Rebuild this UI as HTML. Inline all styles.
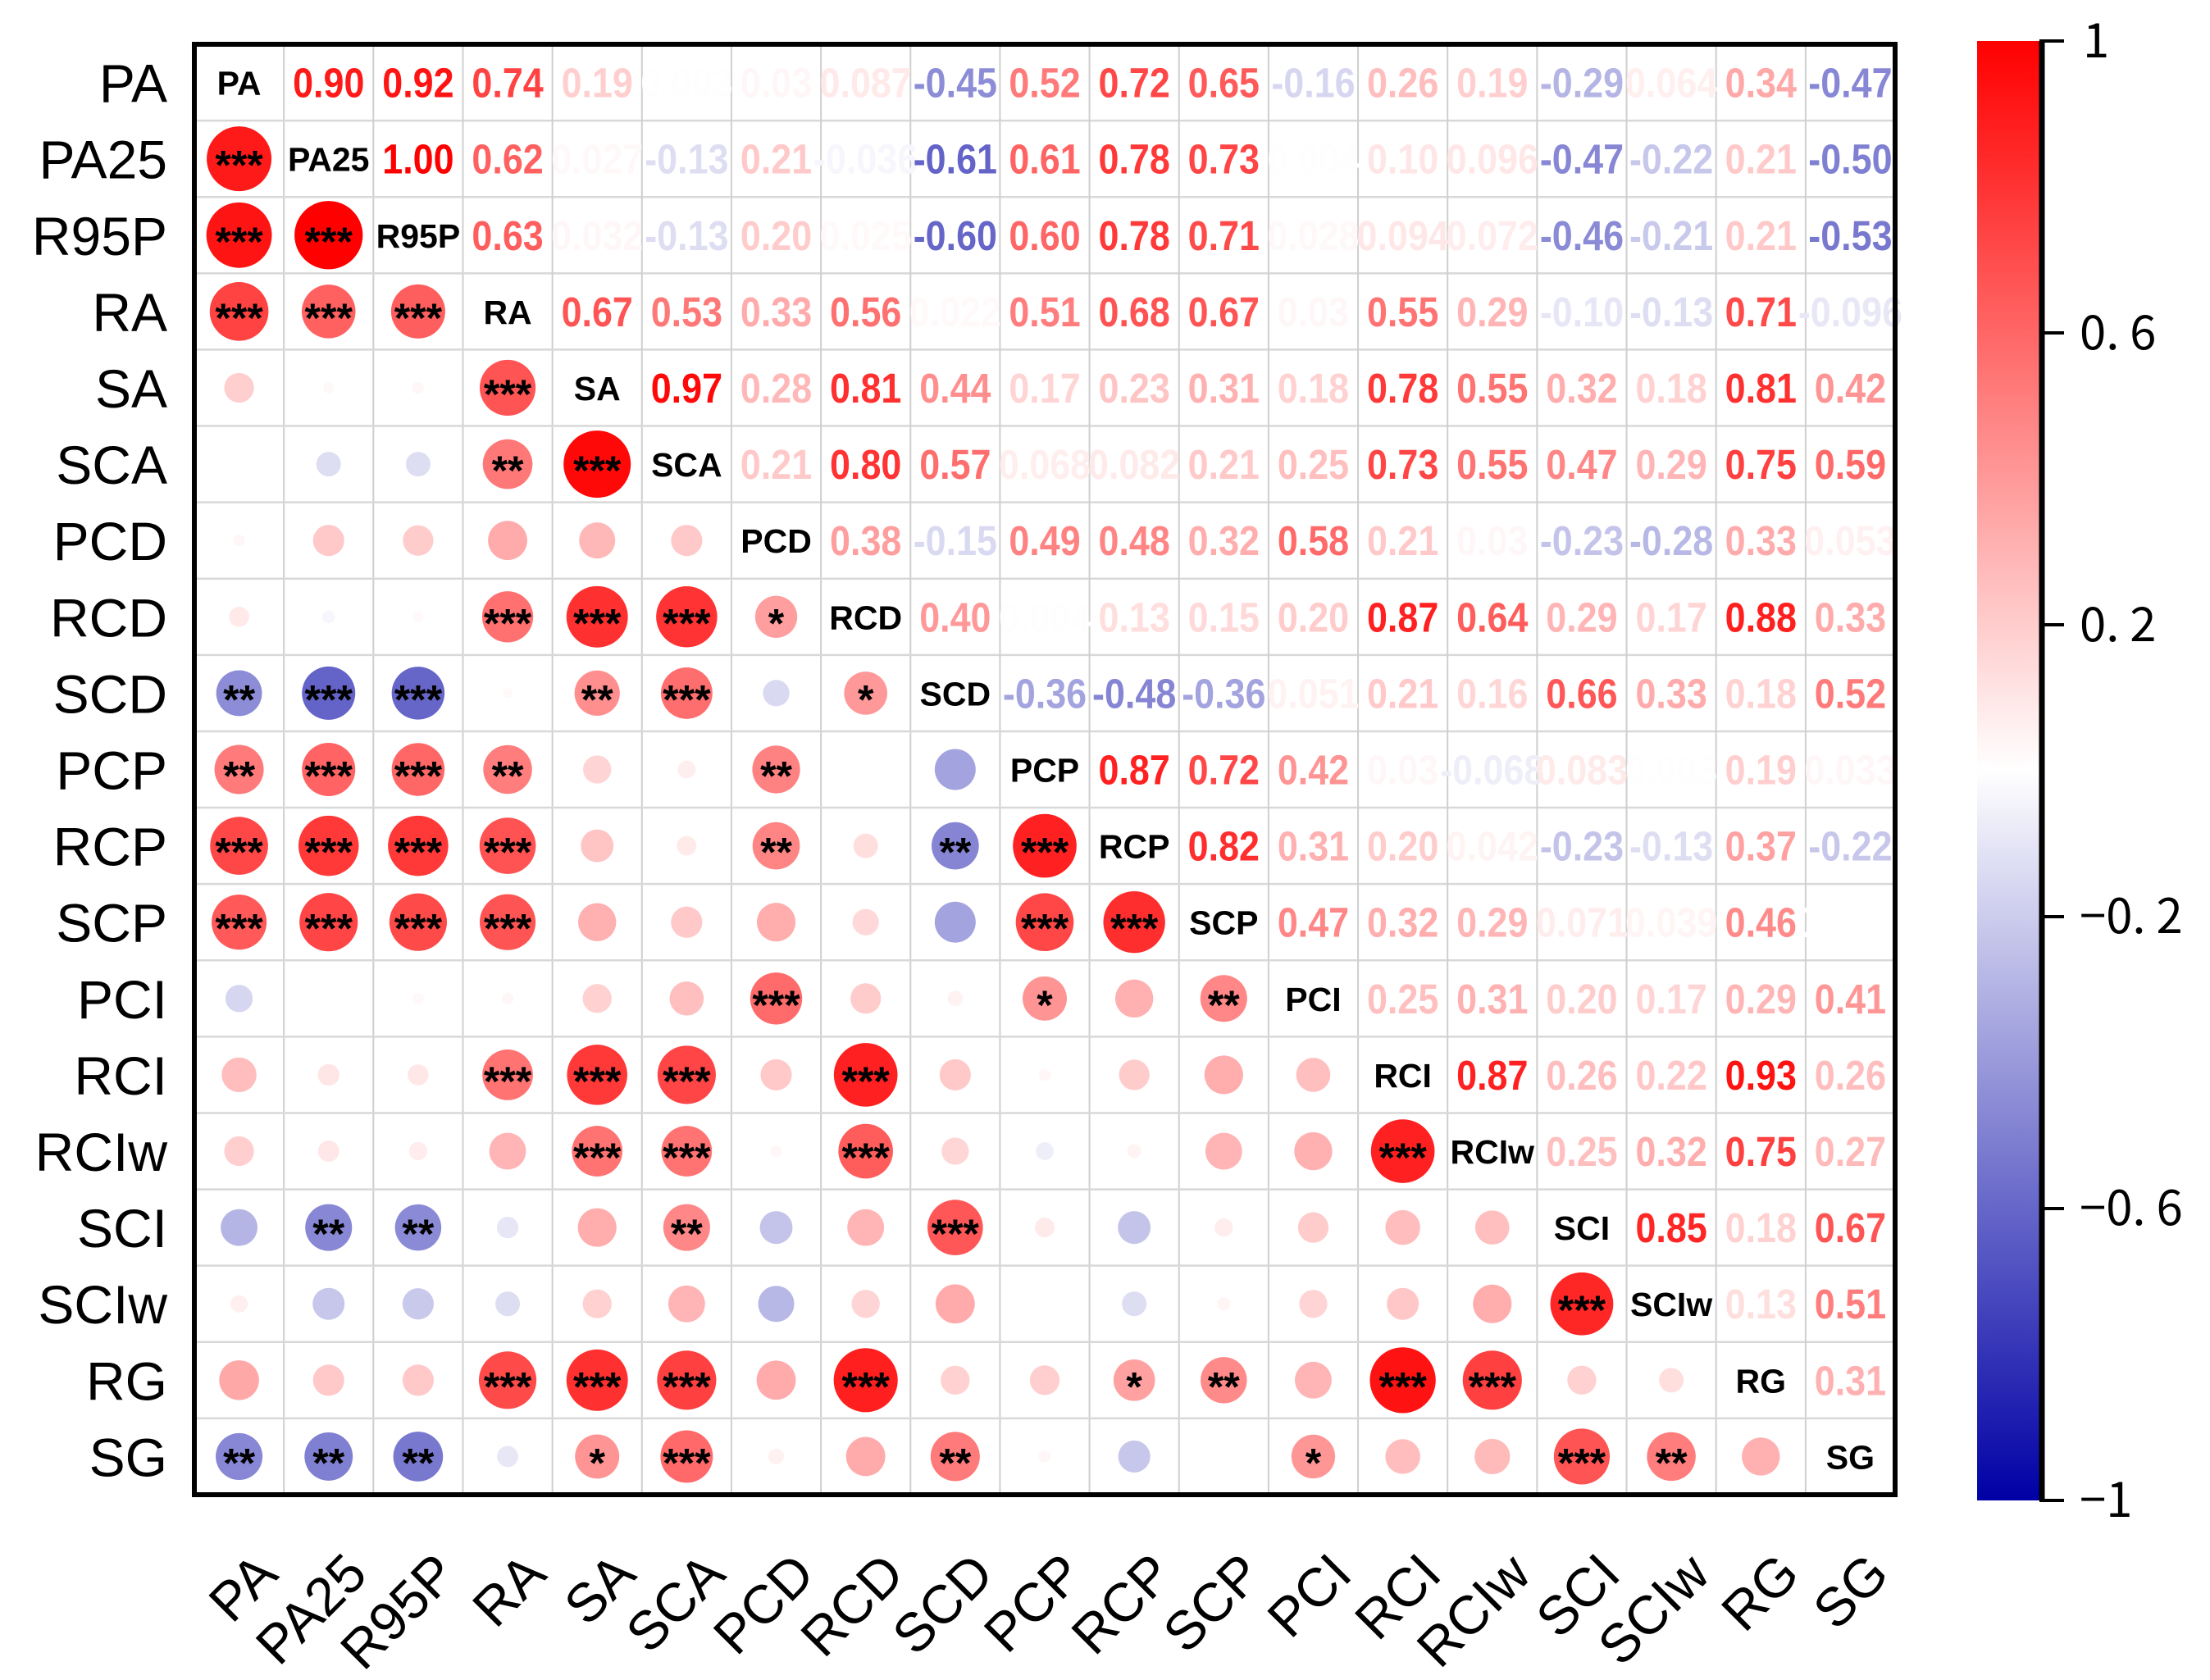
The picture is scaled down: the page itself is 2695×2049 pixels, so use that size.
<!DOCTYPE html>
<html><head><meta charset="utf-8"><style>
html,body{margin:0;padding:0;background:#fff;}
svg{display:block;}
</style></head><body>
<svg id="chart" width="2695" height="2049" viewBox="0 0 2695 2049" xmlns="http://www.w3.org/2000/svg" font-family="Liberation Sans, Arial, sans-serif"></svg>
<script>
const variables = ["PA","PA25","R95P","RA","SA","SCA","PCD","RCD","SCD","PCP","RCP","SCP","PCI","RCI","RCIw","SCI","SCIw","RG","SG"];
// upper-triangle correlations, row i lists values for columns i+1..18
const upperValues = [
 [0.90,0.92,0.74,0.19,0.003,0.03,0.087,-0.45,0.52,0.72,0.65,-0.16,0.26,0.19,-0.29,0.064,0.34,-0.47],
 [1.00,0.62,0.027,-0.13,0.21,-0.036,-0.61,0.61,0.78,0.73,0.004,0.100,0.096,-0.47,-0.22,0.21,-0.50],
 [0.63,0.032,-0.13,0.20,0.025,-0.60,0.60,0.78,0.71,0.028,0.094,0.072,-0.46,-0.21,0.21,-0.53],
 [0.67,0.53,0.33,0.56,0.022,0.51,0.68,0.67,0.030,0.55,0.29,-0.10,-0.13,0.71,-0.096],
 [0.97,0.28,0.81,0.44,0.17,0.23,0.31,0.18,0.78,0.55,0.32,0.18,0.81,0.42],
 [0.21,0.80,0.57,0.068,0.082,0.21,0.25,0.73,0.55,0.47,0.29,0.75,0.59],
 [0.38,-0.15,0.49,0.48,0.32,0.58,0.21,0.03,-0.23,-0.28,0.33,0.053],
 [0.40,0.004,0.13,0.15,0.20,0.87,0.64,0.29,0.17,0.88,0.33],
 [-0.36,-0.48,-0.36,0.051,0.21,0.16,0.66,0.33,0.18,0.52],
 [0.87,0.72,0.42,0.03,-0.068,0.083,0.003,0.19,0.033],
 [0.82,0.31,0.20,0.042,-0.23,-0.13,0.37,-0.22],
 [0.47,0.32,0.29,0.071,0.039,0.46,0.0019],
 [0.25,0.31,0.20,0.17,0.29,0.41],
 [0.87,0.26,0.22,0.93,0.26],
 [0.25,0.32,0.75,0.27],
 [0.85,0.18,0.67],
 [0.13,0.51],
 [0.31],
 []
];
// significance stars in lower triangle, row i lists columns 0..i-1
const lowerStars = [
 [],
 ["***"],
 ["***","***"],
 ["***","***","***"],
 ["","","","***"],
 ["","","","**","***"],
 ["","","","","",""],
 ["","","","***","***","***","*"],
 ["**","***","***","","**","***","","*"],
 ["**","***","***","**","","","**","",""],
 ["***","***","***","***","","","**","","**","***"],
 ["***","***","***","***","","","","","","***","***"],
 ["","","","","","","***","","","*","","**"],
 ["","","","***","***","***","","***","","","","",""],
 ["","","","","***","***","","***","","","","","","***"],
 ["","**","**","","","**","","","***","","","","","",""],
 ["","","","","","","","","","","","","","","","***"],
 ["","","","***","***","***","","***","","","*","**","","***","***","",""],
 ["**","**","**","","*","***","","","**","","","","*","","","***","**",""]
];
const cbTicks = [1,0.6,0.2,-0.2,-0.6,-1];
const cbTickLabels = ["1","0. 6","0. 2","\u22120. 2","\u22120. 6","\u22121"];

const NS="http://www.w3.org/2000/svg";
const svg=document.getElementById('chart');
function mk(tag,attrs,parent){const e=document.createElementNS(NS,tag);for(const k in attrs)e.setAttribute(k,attrs[k]);(parent||svg).appendChild(e);return e;}
const L=237,T=54,R=2311,B=1823,n=variables.length;
const cw=(R-L)/n, ch=(B-T)/n;
const xc=j=>L+cw*(j+0.5), yc=i=>T+ch*(i+0.5);
function corr(i,j){if(i===j)return 1;if(i<j)return upperValues[i][j-i-1];return upperValues[j][i-j-1];}
function color(r){const t=Math.min(1,Math.abs(r));let e=r>=0?[255,0,0]:[0,0,165];
 const c=e.map(v=>Math.round(255+(v-255)*t));return `rgb(${c[0]},${c[1]},${c[2]})`;}
const dmax=82;
const rad=r=>dmax/2*Math.sqrt(Math.abs(r)/0.97);

mk('rect',{x:L,y:T,width:R-L,height:B-T,fill:'#fff'});
const grid=mk('g',{});


for(let k=1;k<n;k++){
 mk('line',{x1:L+cw*k,y1:T,x2:L+cw*k,y2:B,stroke:'#cfcfcf','stroke-width':2},grid);
 mk('line',{x1:L,y1:T+ch*k,x2:R,y2:T+ch*k,stroke:'#d8d8d8','stroke-width':2.5},grid);
}
for(let i=0;i<n;i++){
 for(let j=0;j<n;j++){
  const r=corr(i,j);
  if(i===j){
   const t=mk('text',{x:xc(j),y:yc(i)+15,'text-anchor':'middle','font-size':41,'font-weight':'bold',fill:'#000'});
   t.textContent=variables[i];
   
   
  } else if(j>i){
   const g=mk('g',{transform:`translate(${xc(j)},${yc(i)+18}) scale(0.88,1)`});
   const t=mk('text',{x:0,y:0,'text-anchor':'middle','font-size':51,'font-weight':'bold',fill:color(r)},g);
   let s=Math.abs(r)<0.1&&Math.abs(r)>=0.01?r.toFixed(3).replace(/0$/,''):r.toFixed(2);
   if(Math.abs(r)<0.01)s=r.toFixed(4).replace(/0+$/,'');
   t.textContent=s;
   
   
  } else {
   const c=mk('ellipse',{cx:xc(j),cy:yc(i),rx:rad(r),ry:rad(r),fill:color(r)});
   
   
   const st=lowerStars[i][j];
   if(st){const t=mk('text',{x:xc(j),y:yc(i)+25,'text-anchor':'middle','font-size':50,'font-weight':'bold',fill:'#000'});
    t.textContent=st;
    
    }
  }
 }
}
const frame=mk('rect',{x:L,y:T,width:R-L,height:B-T,fill:'none',stroke:'#000','stroke-width':6});


for(let i=0;i<n;i++){
 const t=mk('text',{x:204,y:yc(i)+24,'text-anchor':'end','font-size':66,fill:'#000'});
 t.textContent=variables[i];
 
 
 const tx=xc(i)+50, ty=1923;
 const u=mk('text',{x:tx,y:ty,'text-anchor':'end','font-size':66,fill:'#000',transform:`rotate(-45 ${tx} ${ty})`});
 u.textContent=variables[i];
 
 
}
// colorbar
const cbL=2411,cbR=2487,cbT=50,cbB=1830;
const defs=mk('defs',{});
const lg=mk('linearGradient',{id:'cbg',x1:0,y1:0,x2:0,y2:1},defs);
for(let k=0;k<=20;k++){const v=1-k/10;mk('stop',{offset:(k/20),'stop-color':color(v)},lg);}
const cb=mk('rect',{x:cbL,y:cbT,width:cbR-cbL,height:cbB-cbT,fill:'url(#cbg)'});


mk('line',{x1:cbR+3,y1:cbT,x2:cbR+3,y2:cbB,stroke:'#000','stroke-width':7});
const cy=v=>cbT+(1-v)/2*(cbB-cbT);
cbTicks.forEach((v,k)=>{
 mk('line',{x1:cbR,y1:cy(v),x2:2517,y2:cy(v),stroke:'#000','stroke-width':4});
 const t=mk('text',{x:v===1?2540:2536,y:cy(v)+20,'font-size':58,fill:'#000','font-family':'Noto Sans CJK SC, sans-serif'});
 t.textContent=cbTickLabels[k];
 
 
});
</script>
</body></html>
